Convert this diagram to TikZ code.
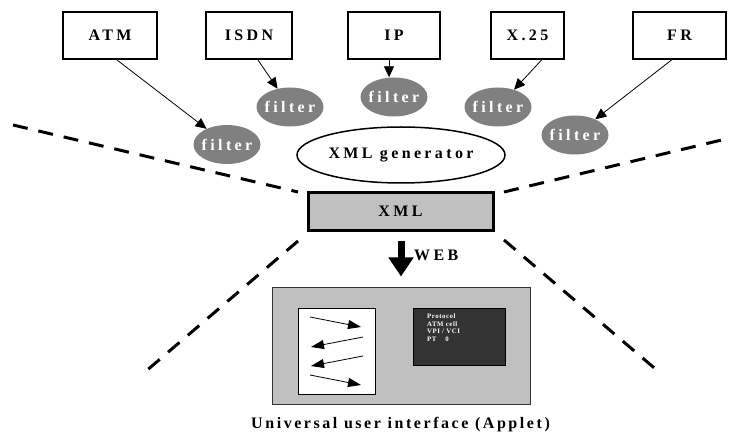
\documentclass[tikz,border=0pt]{standalone}
\usepackage{fontspec}
\setmainfont{Liberation Serif}
\newfontfamily\lblfont[LetterSpace=21]{Liberation Serif}
\newfontfamily\capfont[LetterSpace=16]{Liberation Serif}
\newfontfamily\tinyfont[LetterSpace=8]{Liberation Serif}
\usetikzlibrary{arrows.meta,shapes.geometric}
\definecolor{filtergray}{HTML}{808080}
\definecolor{boxgray}{HTML}{C0C0C0}
\definecolor{darkscreen}{HTML}{333333}
\begin{document}
\begin{tikzpicture}[x=1pt,y=-1pt,
  lbl/.style={font={\lblfont\bfseries\fontsize{16}{18}\selectfont}},
  src/.style={lbl, draw, line width=2pt, minimum height=47pt, inner sep=0pt},
  filt/.style={lbl, shape=ellipse, fill=filtergray, text=white, minimum width=67pt, minimum height=39pt, inner sep=0pt},
  arr/.style={-{Triangle[length=11pt,width=10pt]}, line width=0.8pt},
  smallarr/.style={-{Triangle[length=13pt,width=9pt]}, line width=0.8pt},
  dsh/.style={line width=3pt, dash pattern=on 15pt off 11pt},
]
\useasboundingbox (0,0) rectangle (730,435);

% source boxes
\node[src, minimum width=94pt] (atm)  at (110,35.5)   {ATM};
\node[src, minimum width=86pt] (isdn) at (249,35.5)   {ISDN};
\node[src, minimum width=92pt] (ip)   at (394,35.5)   {IP};
\node[src, minimum width=73pt] (x25)  at (527.5,35.5) {X.25};
\node[src, minimum width=93pt] (fr)   at (679.5,35.5) {FR};

% filters
\node[filt] (fatm)  at (227,144.5) {\makebox[0pt]{filter}};
\node[filt] (fisdn) at (290,107)   {\makebox[0pt]{filter}};
\node[filt] (fip)   at (394,97)    {\makebox[0pt]{filter}};
\node[filt] (fx25)  at (498,107)   {\makebox[0pt]{filter}};
\node[filt] (ffr)   at (575,135)   {\makebox[0pt]{filter}};

\draw[arr] ([xshift=7pt]atm.south) -- (fatm);
\draw[arr] ([xshift=9pt]isdn.south) -- (fisdn);
\draw[arr] ([xshift=-5pt]ip.south) -- ([xshift=-5pt]ip.south |- fip.north);
\draw[arr] ([xshift=14pt]x25.south) -- (fx25);
\draw[arr] ([xshift=-8pt]fr.south) -- (ffr);

% XML generator
\node[lbl, draw, line width=1.5pt, shape=ellipse, minimum width=208pt, minimum height=56pt, inner sep=0pt] (gen) at (401,155) {\makebox[0pt]{XML generator}};

% dashed lines
\draw[dsh] (13,125) -- (298,192);
\draw[dsh] (504,192) -- (730,138);
\draw[dsh] (298,241) -- (142,374.5);
\draw[dsh] (504,240) -- (659,372);

% XML box
\node[lbl, draw, line width=3pt, fill=boxgray, minimum width=185pt, minimum height=38pt, inner sep=0pt] (xml) at (400.5,211.5) {XML};

% applet
\node[draw=darkscreen, line width=1pt, fill=boxgray, minimum width=258pt, minimum height=116pt, inner sep=0pt] (applet) at (401,346) {};
\node[draw, line width=1pt, fill=white, minimum width=77pt, minimum height=86pt, inner sep=0pt] (seq) at (336.5,351) {};
\node[draw=black, line width=1pt, fill=darkscreen, minimum width=92pt, minimum height=57pt, inner sep=0pt] (screen) at (459,336.5) {};
\node[anchor=north west, text=white, align=left, inner sep=0pt,
      font={\tinyfont\bfseries\fontsize{6.8}{7.6}\selectfont}] (info) at (427,313.5)
  {Protocol\\ATM cell\\VPI / VCI\\PT\hspace{9pt}0};

\coordinate (a1s) at (310,317); \coordinate (a1e) at (361,327);
\coordinate (a2s) at (363,337); \coordinate (a2e) at (311,347);
\coordinate (a3s) at (363,356); \coordinate (a3e) at (311,366);
\coordinate (a4s) at (310,375); \coordinate (a4e) at (361,385);
\draw[smallarr] (a1s) -- (a1e);
\draw[smallarr] (a2s) -- (a2e);
\draw[smallarr] (a3s) -- (a3e);
\draw[smallarr] (a4s) -- (a4e);

% WEB arrow
\draw[line width=7pt, -{Triangle[length=19pt,width=24pt]}] ([xshift=0.5pt,yshift=-9pt]xml.south) -- ([yshift=11pt]applet.north);
\node[lbl, anchor=west, inner sep=0pt] (web) at (414,255) {WEB};

% caption
\node[font={\capfont\bfseries\fontsize{16}{18}\selectfont}, inner sep=0pt] (cap) at (400.5,425) {Universal user interface (Applet)};
\end{tikzpicture}
\end{document}
